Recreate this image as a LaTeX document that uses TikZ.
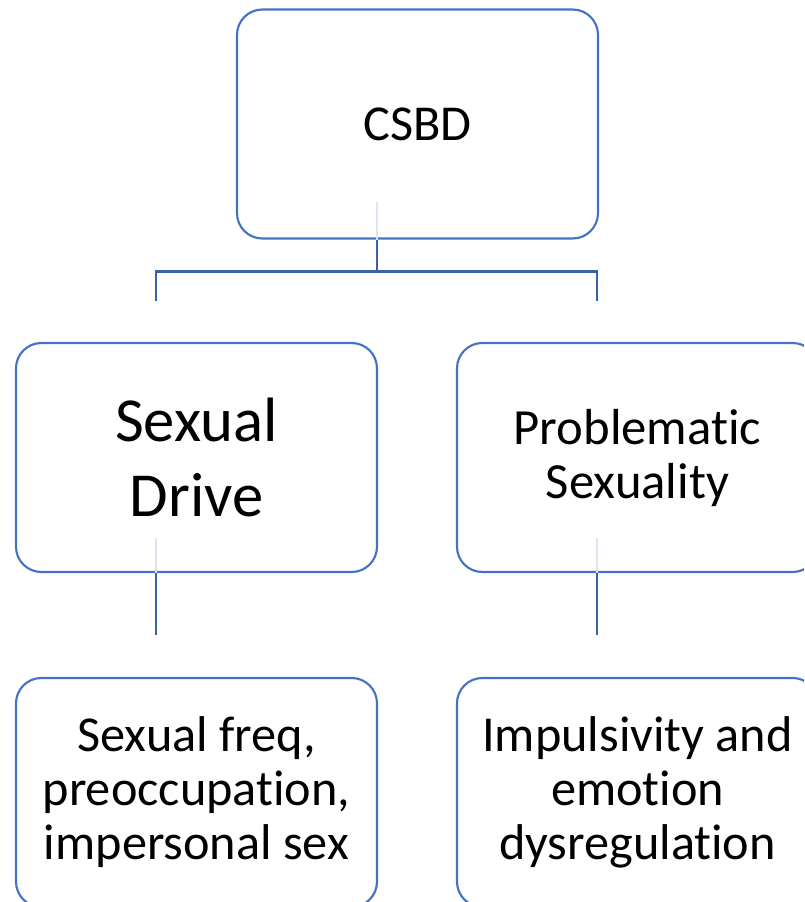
\documentclass[tikz,border=0pt]{standalone}
\usepackage{fontspec}
\setmainfont{Carlito}[RawFeature=-liga]
\usetikzlibrary{calc}
\definecolor{boxblue}{HTML}{4472C4}
\definecolor{linkblue}{HTML}{3A62A7}
\definecolor{faintblue}{HTML}{DCE4F2}
\tikzset{
  box/.style={draw=boxblue, line width=1.6pt, rounded corners=19pt, fill=white,
    minimum width=270.75pt, minimum height=171.75pt, align=center, inner sep=0pt, text=black},
  link/.style={draw=linkblue, line width=1.9pt},
  faintlink/.style={draw=faintblue, line width=1.9pt}
}
\begin{document}
\begin{tikzpicture}[x=0.75pt,y=-0.75pt]
\useasboundingbox (0,0) rectangle (804,902);
\clip (0,0) rectangle (804,902);
\node[box, font=\fontsize{37.7}{44}\selectfont] (top) at (417.5,124) {CSBD};
\node[box, font=\fontsize{47}{56}\selectfont] (left) at (196.5,457.5) {Sexual\\Drive};
\node[box, font=\fontsize{38}{40.5}\selectfont] (right) at (637.5,457.5) {Problematic\\Sexuality};
\node[box, font=\fontsize{37.7}{40.5}\selectfont] (bl) at (196.5,792.5) {Sexual freq,\\preoccupation,\\impersonal sex};
\node[box, font=\fontsize{37.7}{40.5}\selectfont] (br) at (637.5,792.5) {Impulsivity and\\emotion\\dysregulation};
% coordinates
\coordinate (t0) at ($(top.south)+(-40.5,-38)$);
\coordinate (t1) at ($(top.south)+(-40.5,0)$);
\coordinate (j) at ($(top.south)+(-40.5,32)$);
\coordinate (jl) at (j -| {$(left.north)+(-40.5,0)$});
\coordinate (jr) at (j -| {$(right.north)+(-40.5,0)$});
\coordinate (el) at ($(left.north)+(-40.5,-41)$);
\coordinate (er) at ($(right.north)+(-40.5,-41)$);
\coordinate (l0) at ($(left.south)+(-40.5,-35)$);
\coordinate (l1) at ($(left.south)+(-40.5,0)$);
\coordinate (l2) at ($(bl.north)+(-40.5,-42)$);
\coordinate (r0) at ($(right.south)+(-40.5,-35)$);
\coordinate (r1) at ($(right.south)+(-40.5,0)$);
\coordinate (r2) at ($(br.north)+(-40.5,-42)$);
\draw[faintlink] (t0) -- (t1);
\draw[link] (t1) -- (j);
\draw[link] (el) -- (jl) -- (jr) -- (er);
\draw[faintlink] (l0) -- (l1);
\draw[link] (l1) -- (l2);
\draw[faintlink] (r0) -- (r1);
\draw[link] (r1) -- (r2);
\end{tikzpicture}
\end{document}
